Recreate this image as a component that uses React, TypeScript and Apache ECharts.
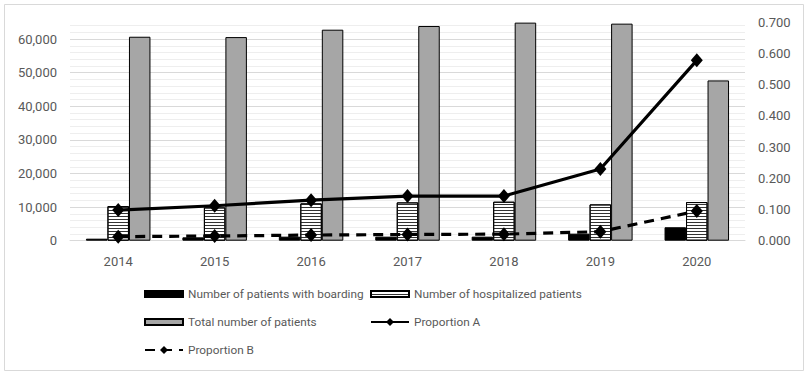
import React, { useEffect, useRef } from "react";
import * as echarts from "echarts";

const years = ["2014", "2015", "2016", "2017", "2018", "2019", "2020"];
const boarding = [600, 1000, 1200, 1200, 1200, 2100, 4000];
const hospitalized = [10300, 9900, 11100, 11400, 11600, 10800, 11500];
const totalPatients = [60700, 60600, 62800, 63900, 64900, 64600, 47700];
const proportionA = [0.098, 0.112, 0.13, 0.143, 0.143, 0.23, 0.578];
const proportionB = [0.013, 0.015, 0.018, 0.02, 0.021, 0.029, 0.095];

const FONT = "Roboto";
const TXT = "#595959";

export default function App() {
  const ref = useRef<HTMLDivElement>(null);
  useEffect(() => {
    const chart = echarts.init(ref.current!, null, { renderer: "svg" });
    const legendBase = {
      orient: "horizontal",
      padding: 0,
      itemGap: 0,
      itemWidth: 38,
      textStyle: { color: TXT, fontSize: 11.8, fontFamily: FONT },
      selectedMode: false,
    };
    chart.setOption({
      animation: false,
      textStyle: { fontFamily: FONT },
      graphic: [
        {
          type: "rect",
          shape: { x: 4.5, y: 4.5, width: 799, height: 366 },
          style: { fill: "none", stroke: "#d9d9d9", lineWidth: 1 },
          silent: true,
        },
      ],
      grid: { left: 70, right: 63, top: 22.3, bottom: 134.3, containLabel: false },
      legend: [
        { ...legendBase, data: [{ name: "Number of patients with boarding", icon: "rect" }], left: 144, top: 288, itemHeight: 6 },
        { ...legendBase, data: [{ name: "Number of hospitalized patients", icon: "rect" }], left: 370, top: 288, itemHeight: 6 },
        { ...legendBase, data: [{ name: "Total number of patients", icon: "rect" }], left: 144, top: 316, itemHeight: 6 },
        { ...legendBase, data: ["Proportion A"], left: 370, top: 316, itemHeight: 10 },
        { ...legendBase, data: ["Proportion B"], left: 144, top: 344, itemHeight: 10 },
      ],
      xAxis: {
        type: "category",
        data: years,
        axisLine: { show: true, lineStyle: { color: "#d9d9d9", width: 1 } },
        axisTick: { show: false },
        axisLabel: { color: TXT, fontSize: 13, fontFamily: FONT, margin: 14 },
      },
      yAxis: [
        {
          type: "value",
          position: "left",
          min: 0,
          max: 65000,
          interval: 10000,
          z: 1,
          axisLine: { show: false },
          axisTick: { show: false },
          axisLabel: {
            color: TXT,
            fontSize: 13,
            fontFamily: FONT,
            margin: 13,
            showMaxLabel: false,
            formatter: (v: number) => (v % 10000 === 0 ? v.toLocaleString("en-US") : ""),
          },
          splitLine: { show: true, showMaxLine: false, lineStyle: { color: "#d9d9d9", width: 1 } },
        },
        {
          type: "value",
          position: "right",
          min: 0,
          max: 0.7,
          interval: 0.1,
          axisLine: { show: false },
          axisTick: { show: false },
          axisLabel: {
            color: TXT,
            fontSize: 13,
            fontFamily: FONT,
            margin: 13,
            formatter: (v: number) => v.toFixed(3),
          },
          splitLine: { show: false },
        },
        {
          type: "value",
          position: "left",
          min: 0,
          max: 65000,
          interval: 2000,
          z: 0,
          axisLine: { show: false },
          axisTick: { show: false },
          axisLabel: { show: false },
          splitLine: { show: true, showMaxLine: false, lineStyle: { color: "#eeeeee", width: 1 } },
        },
      ],
      series: [
        {
          name: "Number of patients with boarding",
          type: "bar",
          data: boarding,
          yAxisIndex: 0,
          barWidth: 21.5,
          barGap: "0%",
          itemStyle: { color: "#000000", borderColor: "#000000", borderWidth: 1 },
        },
        {
          name: "Number of hospitalized patients",
          type: "bar",
          data: hospitalized,
          yAxisIndex: 0,
          barWidth: 21.5,
          barGap: "0%",
          itemStyle: {
            color: "#ffffff",
            borderColor: "#000000",
            borderWidth: 1,
            decal: {
              symbol: "rect",
              symbolSize: 1,
              dashArrayX: [1, 0],
              dashArrayY: [1, 2],
              rotation: 0,
              color: "#333333",
              backgroundColor: "#ffffff",
            },
          },
        },
        {
          name: "Total number of patients",
          type: "bar",
          data: totalPatients,
          yAxisIndex: 0,
          barWidth: 21.5,
          barGap: "0%",
          itemStyle: { color: "#a6a6a6", borderColor: "#000000", borderWidth: 1 },
        },
        {
          name: "Proportion A",
          type: "line",
          data: proportionA,
          yAxisIndex: 1,
          z: 5,
          symbol: "diamond",
          symbolSize: [12, 14],
          lineStyle: { color: "#000000", width: 3.2 },
          itemStyle: { color: "#000000" },
        },
        {
          name: "Proportion B",
          type: "line",
          data: proportionB,
          yAxisIndex: 1,
          z: 5,
          symbol: "diamond",
          symbolSize: [12, 14],
          lineStyle: { color: "#000000", width: 3.2, type: [10, 7] },
          itemStyle: { color: "#000000" },
        },
      ],
    });
    return () => chart.dispose();
  }, []);
  return (
    <div
      ref={ref}
      style={{ position: "absolute", left: 0, top: 0, width: 808, height: 375, background: "#fff" }}
    />
  );
}
